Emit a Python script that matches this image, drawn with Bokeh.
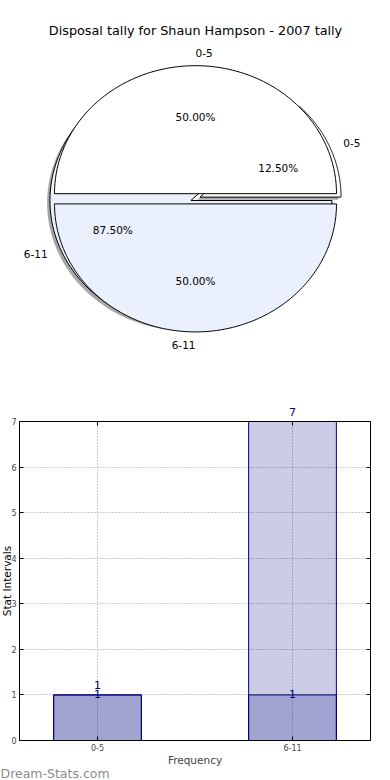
import math
import numpy as np
from bokeh.plotting import figure
from bokeh.layouts import column
from bokeh.models import Range1d, FixedTicker, LinearAxis, LabelSet, Title, ColumnDataSource
from bokeh.core.properties import value
from bokeh.embed import file_html
from bokeh.resources import INLINE

# ---------------- data ----------------
chart_title = "Disposal tally for Shaun Hampson - 2007 tally"
categories = ["0-5", "6-11"]
pie_outer_values = [1, 7]      # 12.50% / 87.50%
pie_inner_values = [1, 1]      # 50.00% / 50.00%
bar_series_a = [1, 7]
bar_series_b = [1, 1]
y_ticks = [0, 1, 2, 3, 4, 5, 6, 7]
x_label = "Frequency"
y_label = "Stat Intervals"
watermark = "Dream-Stats.com"

# ---------------- styles ----------------
FONT = "DejaVu Sans"
slice_colors = ["#ffffff", "#eaf0fc"]

W = 390
FL, FR = 19, 20                # left / right borders shared by both figures

# ---------------- pie figure (1 data unit = 1 px) ----------------
RX, RY = 141.0, 128.0          # ellipse radii in px
CX, CY = 195.0, 198.3          # pie centre in px from top-left of the page
PH = 400

pie = figure(width=W, height=PH,
             x_range=Range1d(FL - CX, W - FR - CX),
             y_range=Range1d(-(PH - CY), CY),
             toolbar_location=None, output_backend="svg",
             x_axis_location=None, y_axis_location=None,
             min_border_left=FL, min_border_right=FR,
             min_border_top=0, min_border_bottom=0,
             outline_line_color=None)
pie.grid.visible = False


def pie_geometry(vals, explode, n=160):
    total = float(sum(vals))
    xs_all, ys_all, info = [], [], []
    t = 0.0
    for v in vals:
        frac = v / total
        t1, t2 = t, t + 2 * math.pi * frac
        mid = (t1 + t2) / 2
        ox, oy = explode * math.cos(mid), explode * math.sin(mid)
        a = np.linspace(t1, t2, n)
        xs_all.append([RX * ox] + list(RX * (ox + np.cos(a))) + [RX * ox])
        ys_all.append([RY * oy] + list(RY * (oy + np.sin(a))) + [RY * oy])
        info.append((mid, ox, oy, frac))
        t = t2
    return xs_all, ys_all, info


def add_labels(fig, info, labels):
    for (mid, ox, oy, frac), lab in zip(info, labels):
        c, s = math.cos(mid), math.sin(mid)
        align = "left" if c > 0 else "right"
        fig.text(x=[RX * (ox + 1.1 * c)], y=[RY * (oy + 1.1 * s)], text=[lab],
                 text_align=align, text_baseline="middle",
                 text_font=value(FONT), text_font_size="10.5px", text_color="black")
        fig.text(x=[RX * (ox + 0.6 * c)], y=[RY * (oy + 0.6 * s)],
                 text=["%.2f%%" % (frac * 100)],
                 text_align="center", text_baseline="middle",
                 text_font=value(FONT), text_font_size="10.5px", text_color="black")


# outer pie (with shadow)
ox1, oy1, info1 = pie_geometry(pie_outer_values, 0.035)
pie.patches(xs=[[x - 0.02 * RX for x in xs] for xs in ox1],
            ys=[[y - 0.02 * RY for y in ys] for ys in oy1],
            fill_color="#4d4d4d", fill_alpha=0.5, line_color=None)
pie.patches(xs=ox1, ys=oy1, fill_color=slice_colors, line_color="black", line_width=1)

# inner pie
ox2, oy2, info2 = pie_geometry(pie_inner_values, 0.04)
pie.patches(xs=ox2, ys=oy2, fill_color=slice_colors, line_color="black", line_width=1)

add_labels(pie, info1, categories)
add_labels(pie, info2, categories)

pie.text(x=[0], y=[CY - 30], text=[chart_title], text_align="center",
         text_baseline="middle", text_font=value(FONT), text_font_size="12.8px",
         text_color="black")

# ---------------- bar figure ----------------
BH = 380
FT, FB = 21, 40
FW, FH = W - FL - FR, BH - FT - FB
x_start, x_end = -0.4, 1.4
y_min, y_max = y_ticks[0], y_ticks[-1]
xpos = list(range(len(categories)))
bar = figure(width=W, height=BH,
             x_range=Range1d(x_start, x_end), y_range=Range1d(y_min, y_max),
             toolbar_location=None, output_backend="svg",
             min_border_left=FL, min_border_right=FR,
             min_border_top=FT, min_border_bottom=FB)
bar.outline_line_color = "black"
bar.outline_line_width = 1

bar.vbar(x=xpos, top=bar_series_a, width=0.45, bottom=0,
         fill_color="navy", fill_alpha=0.2, line_color="navy", line_width=1)
bar.vbar(x=xpos, top=bar_series_b, width=0.45, bottom=0,
         fill_color="navy", fill_alpha=0.2, line_color="navy", line_width=1)

px_per_x = FW / (x_end - x_start)

# value labels: inside the frame as label sets, the ones above the frame as titles
in_a = [(x, v) for x, v in zip(xpos, bar_series_a) if v < y_max]
out_a = [(x, v) for x, v in zip(xpos, bar_series_a) if v >= y_max]
src_a = ColumnDataSource(dict(x=[p[0] for p in in_a], y=[p[1] for p in in_a],
                              t=[str(p[1]) for p in in_a]))
src_b = ColumnDataSource(dict(x=xpos, y=bar_series_b, t=[str(v) for v in bar_series_b]))
bar.add_layout(LabelSet(x="x", y="y", text="t", source=src_a, y_offset=6,
                        text_align="center", text_baseline="alphabetic",
                        text_font=value(FONT), text_font_size="11px", text_color="navy"))
bar.add_layout(LabelSet(x="x", y="y", text="t", source=src_b, y_offset=-3,
                        text_align="center", text_baseline="alphabetic",
                        text_font=value(FONT), text_font_size="11px", text_color="navy"))

# axes
xa = bar.xaxis[0]
xa.ticker = FixedTicker(ticks=xpos)
xa.major_label_overrides = {i: c for i, c in zip(xpos, categories)}
xa.major_tick_in = 4
xa.major_tick_out = 0
xa.minor_tick_line_color = None
xa.major_label_standoff = 3
xa.major_label_text_font = FONT
xa.major_label_text_font_size = "8px"
xa.axis_label = x_label
xa.axis_label_standoff = 0
xa.axis_label_text_font = FONT
xa.axis_label_text_font_style = "normal"
xa.axis_label_text_font_size = "10.5px"

ya = bar.yaxis[0]
ya.ticker = FixedTicker(ticks=y_ticks)
ya.major_tick_in = 4
ya.major_tick_out = 0
ya.minor_tick_line_color = None
ya.major_label_standoff = 3
ya.major_label_text_font = FONT
ya.major_label_text_font_size = "8px"

ra = LinearAxis(ticker=FixedTicker(ticks=y_ticks), major_tick_in=4, major_tick_out=0,
                minor_tick_line_color=None, major_label_standoff=0,
                major_label_overrides={t: "" for t in y_ticks})
bar.add_layout(ra, "right")
ta = LinearAxis(ticker=FixedTicker(ticks=xpos), major_tick_in=4, major_tick_out=0,
                minor_tick_line_color=None, major_label_standoff=0,
                major_label_overrides={t: "" for t in xpos})
bar.add_layout(ta, "above")

for x, v in out_a:
    bar.add_layout(Title(text=str(v), align="left",
                         offset=(x - x_start) * px_per_x - 3.5,
                         standoff=7, vertical_align="top",
                         text_font=FONT, text_font_size="11px",
                         text_font_style="normal", text_color="navy"), "above")

# y-axis title, in its own side panel left of the tick labels
bar.add_layout(Title(text=y_label, align="center", standoff=-10,
                     vertical_align="middle", text_baseline="alphabetic",
                     text_font=FONT, text_font_size="10.5px",
                     text_font_style="normal", text_color="black"), "left")

bar.add_layout(Title(text=watermark, align="left", offset=-FL, standoff=-6,
                     vertical_align="top",
                     text_font=FONT, text_font_size="12.5px", text_font_style="normal",
                     text_color="#8c8c8c"), "below")

# grid (dotted, drawn over bars)
bar.xgrid.ticker = FixedTicker(ticks=xpos)
bar.ygrid.ticker = FixedTicker(ticks=y_ticks)
for g in (bar.xgrid[0], bar.ygrid[0]):
    g.grid_line_color = "black"
    g.grid_line_alpha = 0.4
    g.grid_line_dash = "1 2"
    g.grid_line_width = 1
    g.level = "overlay"

layout = column(pie, bar, spacing=0)
open("out.html", "w").write(file_html(layout, INLINE))
